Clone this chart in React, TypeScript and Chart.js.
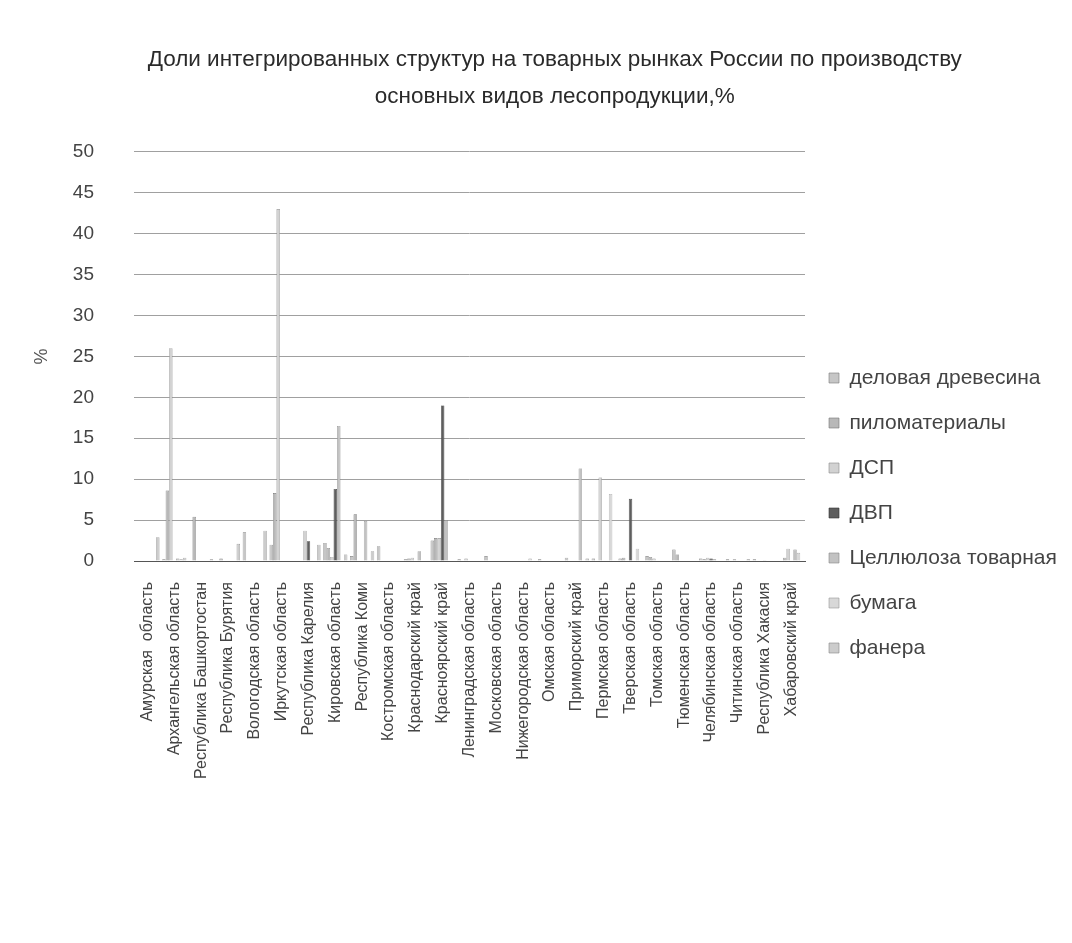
import React, { useEffect, useRef } from "react";
import { Chart, registerables } from "chart.js";

Chart.register(...registerables);

const categories = [
  "Амурская  область",
  "Архангельская область",
  "Республика Башкортостан",
  "Республика Бурятия",
  "Вологодская область",
  "Иркутская область",
  "Республика Карелия",
  "Кировская область",
  "Республика Коми",
  "Костромская область",
  "Краснодарский край",
  "Красноярский край",
  "Ленинградская область",
  "Московская область",
  "Нижегородская область",
  "Омская область",
  "Приморский край",
  "Пермская область",
  "Тверская область",
  "Томская область",
  "Тюменская область",
  "Челябинская область",
  "Читинская область",
  "Республика Хакасия",
  "Хабаровский край",
];

const seriesNames = [
  "деловая древесина",
  "пиломатериалы",
  "ДСП",
  "ДВП",
  "Целлюлоза товарная",
  "бумага",
  "фанера",
];

const titleLines = [
  "Доли интегрированных структур на товарных рынках России по производству",
  "основных видов лесопродукции,%",
];

const delovaya = [0, 0.2, 0, 0, 3.5, 2.0, 0, 2.2, 0.6, 1.8, 0.2, 2.5, 0.2, 0.6, 0, 0.2, 0.4, 0.3, 0.3, 0.6, 1.4, 0.3, 0.2, 0.2, 0];
const pilomat = [0, 8.6, 5.4, 0.3, 0, 8.3, 0, 1.6, 5.7, 0, 0.3, 2.8, 0, 0, 0, 0, 0, 0, 0.4, 0.5, 0.8, 0.2, 0, 0, 0.4];
const dsp = [0, 26, 0, 0, 0, 43, 3.7, 0.5, 0, 0, 0.4, 2.8, 0.3, 0, 0, 0, 0, 10.2, 0, 0.3, 0, 0.4, 0.2, 0, 1.5];
const dvp = [0, 0, 0, 0, 0, 0, 2.4, 8.8, 0, 0, 0, 19, 0, 0, 0, 0, 0, 0, 7.6, 0, 0, 0.3, 0, 0.1, 0];
const cellulose = [0, 0.3, 0, 0, 0, 0, 0, 16.5, 4.9, 0, 1.2, 5.0, 0, 0, 0, 0, 11.3, 0, 0, 0, 0, 0.2, 0, 0, 1.4];
const paper = [0, 0.2, 0, 0, 0, 0, 0, 0, 0, 0, 0, 0, 0, 0, 0.3, 0, 0, 8.2, 1.5, 0, 0, 0, 0, 0, 1.0];
const plywood = [2.9, 0.4, 0.2, 2.1, 3.7, 0, 2.0, 0.8, 1.2, 0, 0, 0, 0, 0, 0, 0, 0.3, 0, 0, 0, 0, 0, 0.2, 0, 0];

const seriesValues = [delovaya, pilomat, dsp, dvp, cellulose, paper, plywood];
const fills = ["#c6c6c6", "#b8b8b8", "#d2d2d2", "#5e5e5e", "#c2c2c2", "#d8d8d8", "#cccccc"];
const borders = ["#7a7a7a", "#777777", "#8a8a8a", "#333333", "#888888", "#999999", "#888888"];

const FONT = '"Liberation Sans", Arial, sans-serif';
const TITLE_INDENT = "      ";

export default function App() {
  const ref = useRef<HTMLCanvasElement | null>(null);

  useEffect(() => {
    if (!ref.current) return;
    const chart = new Chart(ref.current, {
      type: "bar",
      data: {
        labels: categories,
        datasets: seriesNames.map((name, i) => ({
          label: name,
          data: seriesValues[i],
          backgroundColor: fills[i],
          borderColor: borders[i],
          borderWidth: 0.6,
          barPercentage: 1,
          categoryPercentage: 0.9,
        })),
      },
      options: {
        animation: false,
        responsive: true,
        maintainAspectRatio: false,
        layout: { padding: { left: 0, right: 0, top: 0, bottom: 0 } },
        plugins: {
          title: {
            display: true,
            text: titleLines.map((t) => TITLE_INDENT + t),
            color: "#2a2a2a",
            font: { family: FONT, size: 22.5, weight: "normal", lineHeight: 1.64 },
            padding: { top: 33, bottom: 37 },
          },
          legend: {
            position: "right",
            maxWidth: 259,
            title: {
              display: true,
              text: " ",
              font: { size: 10, lineHeight: 1.2 },
              padding: { top: 0, bottom: 98 },
            },
            labels: {
              boxWidth: 10,
              boxHeight: 10,
              padding: 24,
              color: "#444444",
              font: { family: FONT, size: 21 },
            },
          },
          tooltip: { enabled: false },
        },
        scales: {
          x: {
            grid: { display: false, drawTicks: false },
            border: { display: true, color: "#555555", width: 1 },
            ticks: {
              autoSkip: false,
              maxRotation: 90,
              minRotation: 90,
              padding: 21,
              color: "#444444",
              font: { family: FONT, size: 16 },
            },
            afterFit: (scale: any) => {
              scale.height = 347;
            },
          },
          y: {
            min: 0,
            max: 50,
            ticks: {
              stepSize: 5,
              padding: 40,
              color: "#444444",
              font: { family: FONT, size: 19 },
            },
            grid: { color: "#a0a0a0", drawTicks: false, lineWidth: 1 },
            border: { display: false },
            title: {
              display: true,
              text: "%",
              color: "#555555",
              font: { family: FONT, size: 18 },
              padding: { top: 23, bottom: 0 },
            },
            afterFit: (scale: any) => {
              scale.width = 126;
            },
          },
        },
      },
    });
    return () => chart.destroy();
  }, []);

  return (
    <div style={{ width: 1056, height: 900, position: "relative" }}>
      <canvas ref={ref} />
    </div>
  );
}
